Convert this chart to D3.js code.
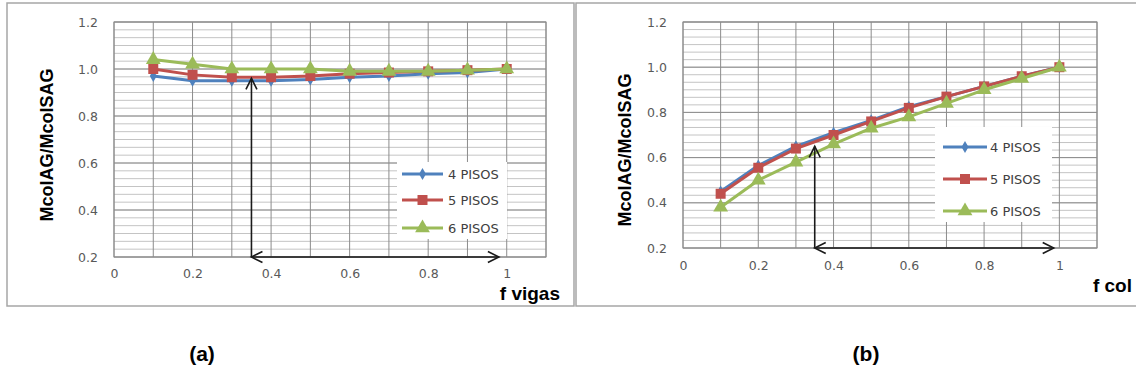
<!DOCTYPE html>
<html>
<head>
<meta charset="utf-8">
<script src="https://cdn.jsdelivr.net/npm/d3@7"></script>
<style>
  html, body { margin: 0; padding: 0; background: #fff; }
  svg { display: block; }
</style>
</head>
<body>
<svg id="chart" width="1136" height="385"></svg>
<script>
// ---- data ----
const fValues = [0.1, 0.2, 0.3, 0.4, 0.5, 0.6, 0.7, 0.8, 0.9, 1.0];
const seriesNames = ["4 PISOS", "5 PISOS", "6 PISOS"];

// (a) ratio vs. beam factor
const vigas4 = [0.97, 0.95, 0.95, 0.95, 0.955, 0.965, 0.97, 0.98, 0.985, 1.00];
const vigas5 = [1.00, 0.975, 0.965, 0.965, 0.97, 0.98, 0.985, 0.99, 0.995, 1.00];
const vigas6 = [1.04, 1.02, 1.00, 1.00, 1.00, 0.99, 0.99, 0.99, 0.995, 1.00];

// (b) ratio vs. column factor
const col4 = [0.45, 0.565, 0.65, 0.71, 0.765, 0.825, 0.87, 0.915, 0.96, 1.00];
const col5 = [0.44, 0.555, 0.64, 0.70, 0.76, 0.82, 0.87, 0.915, 0.96, 1.00];
const col6 = [0.38, 0.50, 0.58, 0.66, 0.73, 0.78, 0.84, 0.90, 0.95, 1.00];

const xTickValues = [0, 0.2, 0.4, 0.6, 0.8, 1];
const xTickLabels = ["0", "0.2", "0.4", "0.6", "0.8", "1"];
const yTickValues = [0.2, 0.4, 0.6, 0.8, 1.0, 1.2];
const yTickLabels = ["0.2", "0.4", "0.6", "0.8", "1.0", "1.2"];

// guide arrows: vertical from the baseline at x up to yTop, horizontal from x to xEnd
const arrowA = { x: 0.35, yTop: 0.96, xEnd: 0.98 };
const arrowB = { x: 0.35, yTop: 0.65, xEnd: 0.985 };

const colors = ["#4F81BD", "#C0504D", "#9BBB59"];
const symbols = [d3.symbolDiamond, d3.symbolSquare, d3.symbolTriangle];
const symbolSizes = [42, 100, 95];

const svg = d3.select("#chart");

function drawPanel(cfg) {
  const g = svg.append("g");

  // outer frame
  g.append("rect")
    .attr("x", cfg.frame.x).attr("y", cfg.frame.y)
    .attr("width", cfg.frame.w).attr("height", cfg.frame.h)
    .attr("fill", "#fff").attr("stroke", "#a6a6a6").attr("stroke-width", 1.5);

  const x = d3.scaleLinear().domain([0, 1.1]).range([cfg.plot.x0, cfg.plot.x1]);
  const y = d3.scaleLinear().domain([0.2, 1.2]).range([cfg.plot.y1, cfg.plot.y0]);

  // minor horizontal grid (six steps per major interval)
  const minorY = d3.range(0, 31).map(i => 0.2 + i / 30);
  g.append("g").selectAll("line").data(minorY).join("line")
    .attr("x1", x(0)).attr("x2", x(1.1))
    .attr("y1", d => y(d)).attr("y2", d => y(d))
    .attr("stroke", "#c4c4c4").attr("stroke-width", 1);

  // major horizontal grid
  g.append("g").selectAll("line").data(yTickValues).join("line")
    .attr("x1", x(0)).attr("x2", x(1.1))
    .attr("y1", d => y(d)).attr("y2", d => y(d))
    .attr("stroke", "#8c8c8c").attr("stroke-width", 1);

  // vertical grid every 0.1
  const vx = d3.range(0, 12).map(i => i / 10);
  g.append("g").selectAll("line").data(vx).join("line")
    .attr("x1", d => x(d)).attr("x2", d => x(d))
    .attr("y1", y(0.2)).attr("y2", y(1.2))
    .attr("stroke", "#8c8c8c").attr("stroke-width", 1);

  // plot border
  g.append("rect")
    .attr("x", x(0)).attr("y", y(1.2))
    .attr("width", x(1.1) - x(0)).attr("height", y(0.2) - y(1.2))
    .attr("fill", "none").attr("stroke", "#8c8c8c").attr("stroke-width", 1);

  // axes (labels only; lines are the grid)
  const yAxis = d3.axisLeft(y).tickValues(yTickValues)
    .tickFormat((d, i) => yTickLabels[i]).tickSize(0).tickPadding(16);
  const yG = g.append("g").attr("transform", `translate(${x(0)},0)`).call(yAxis);
  const xAxis = d3.axisBottom(x).tickValues(xTickValues)
    .tickFormat((d, i) => xTickLabels[i]).tickSize(0).tickPadding(cfg.xPad);
  const xG = g.append("g").attr("transform", `translate(0,${y(0.2)})`).call(xAxis);
  [yG, xG].forEach(a => {
    a.select(".domain").remove();
    a.selectAll("text")
      .attr("font-family", "DejaVu Sans, sans-serif")
      .attr("font-size", 12.5).attr("fill", "#595959");
  });

  // series
  const line = d3.line().x(d => x(d[0])).y(d => y(d[1]));
  cfg.series.forEach((vals, s) => {
    const pts = fValues.map((f, i) => [f, vals[i]]);
    g.append("path").datum(pts)
      .attr("d", line).attr("fill", "none")
      .attr("stroke", colors[s]).attr("stroke-width", 3)
      .attr("stroke-linejoin", "round");
    g.append("g").selectAll("path").data(pts).join("path")
      .attr("transform", d => `translate(${x(d[0])},${y(d[1])})`)
      .attr("d", d3.symbol().type(symbols[s]).size(symbolSizes[s]))
      .attr("fill", colors[s]);
  });

  // guide arrows
  const a = cfg.arrow;
  const ax = x(a.x), ay0 = y(0.2), ayTop = y(a.yTop), axEnd = x(a.xEnd);
  const ag = g.append("g").attr("stroke", "#1a1a1a").attr("stroke-width", 1.6)
    .attr("fill", "none");
  ag.append("line").attr("x1", ax).attr("x2", ax).attr("y1", ay0).attr("y2", ayTop);
  ag.append("line").attr("x1", ax).attr("x2", axEnd).attr("y1", ay0).attr("y2", ay0);
  const h = 11, w = 5.5;
  ag.append("path").attr("d", `M${ax - w},${ayTop + h}L${ax},${ayTop}L${ax + w},${ayTop + h}`);
  ag.append("path").attr("d", `M${ax + h},${ay0 - w}L${ax},${ay0}L${ax + h},${ay0 + w}`);
  ag.append("path").attr("d", `M${axEnd - h},${ay0 - w}L${axEnd},${ay0}L${axEnd - h},${ay0 + w}`);

  // legend
  const L = cfg.legend;
  g.append("rect").attr("x", L.x).attr("y", L.y).attr("width", L.w).attr("height", L.h)
    .attr("fill", "#fff");
  seriesNames.forEach((name, s) => {
    const ly = L.rows[s];
    g.append("line").attr("x1", L.lx0).attr("x2", L.lx1).attr("y1", ly).attr("y2", ly)
      .attr("stroke", colors[s]).attr("stroke-width", 3);
    g.append("path")
      .attr("transform", `translate(${(L.lx0 + L.lx1) / 2},${ly})`)
      .attr("d", d3.symbol().type(symbols[s]).size(symbolSizes[s]))
      .attr("fill", colors[s]);
    g.append("text").attr("x", L.tx).attr("y", ly + 5)
      .attr("font-family", "DejaVu Sans, sans-serif").attr("font-size", 13)
      .attr("fill", "#404040").text(name);
  });

  // axis titles
  g.append("text")
    .attr("transform", `translate(${cfg.yTitle.x},${cfg.yTitle.y}) rotate(-90)`)
    .attr("text-anchor", "middle").attr("dominant-baseline", "central")
    .attr("font-family", "Liberation Sans, Arial, sans-serif")
    .attr("font-weight", "bold").attr("font-size", 18).attr("fill", "#000")
    .text("McolAG/McolSAG");
  g.append("text")
    .attr("x", cfg.xTitle.x).attr("y", cfg.xTitle.y)
    .attr("text-anchor", "end")
    .attr("font-family", "Liberation Sans, Arial, sans-serif")
    .attr("font-weight", "bold").attr("font-size", 19).attr("fill", "#000")
    .text(cfg.xTitle.text);

  // panel caption
  svg.append("text")
    .attr("x", cfg.caption.x).attr("y", cfg.caption.y)
    .attr("text-anchor", "middle")
    .attr("font-family", "Liberation Sans, Arial, sans-serif")
    .attr("font-weight", "bold").attr("font-size", 21).attr("fill", "#000")
    .text(cfg.caption.text);
}

drawPanel({
  frame: { x: 7, y: 3, w: 567, h: 303 },
  plot: { x0: 114, x1: 546, y0: 22, y1: 257 },
  xPad: 12,
  series: [vigas4, vigas5, vigas6],
  arrow: arrowA,
  legend: { x: 397, y: 162, w: 110, h: 77, rows: [174, 200, 228], lx0: 402, lx1: 443, tx: 448 },
  yTitle: { x: 47, y: 145 },
  xTitle: { x: 560, y: 300, text: "f vigas" },
  caption: { x: 202, y: 361, text: "(a)" }
});

drawPanel({
  frame: { x: 576, y: 3, w: 570, h: 303 },
  plot: { x0: 683, x1: 1097, y0: 22, y1: 248 },
  xPad: 13,
  series: [col4, col5, col6],
  arrow: arrowB,
  legend: { x: 935, y: 127, w: 117, h: 95, rows: [147, 179, 211], lx0: 943, lx1: 987, tx: 990 },
  yTitle: { x: 625, y: 150 },
  xTitle: { x: 1132, y: 292, text: "f col" },
  caption: { x: 866, y: 361, text: "(b)" }
});
</script>
</body>
</html>
